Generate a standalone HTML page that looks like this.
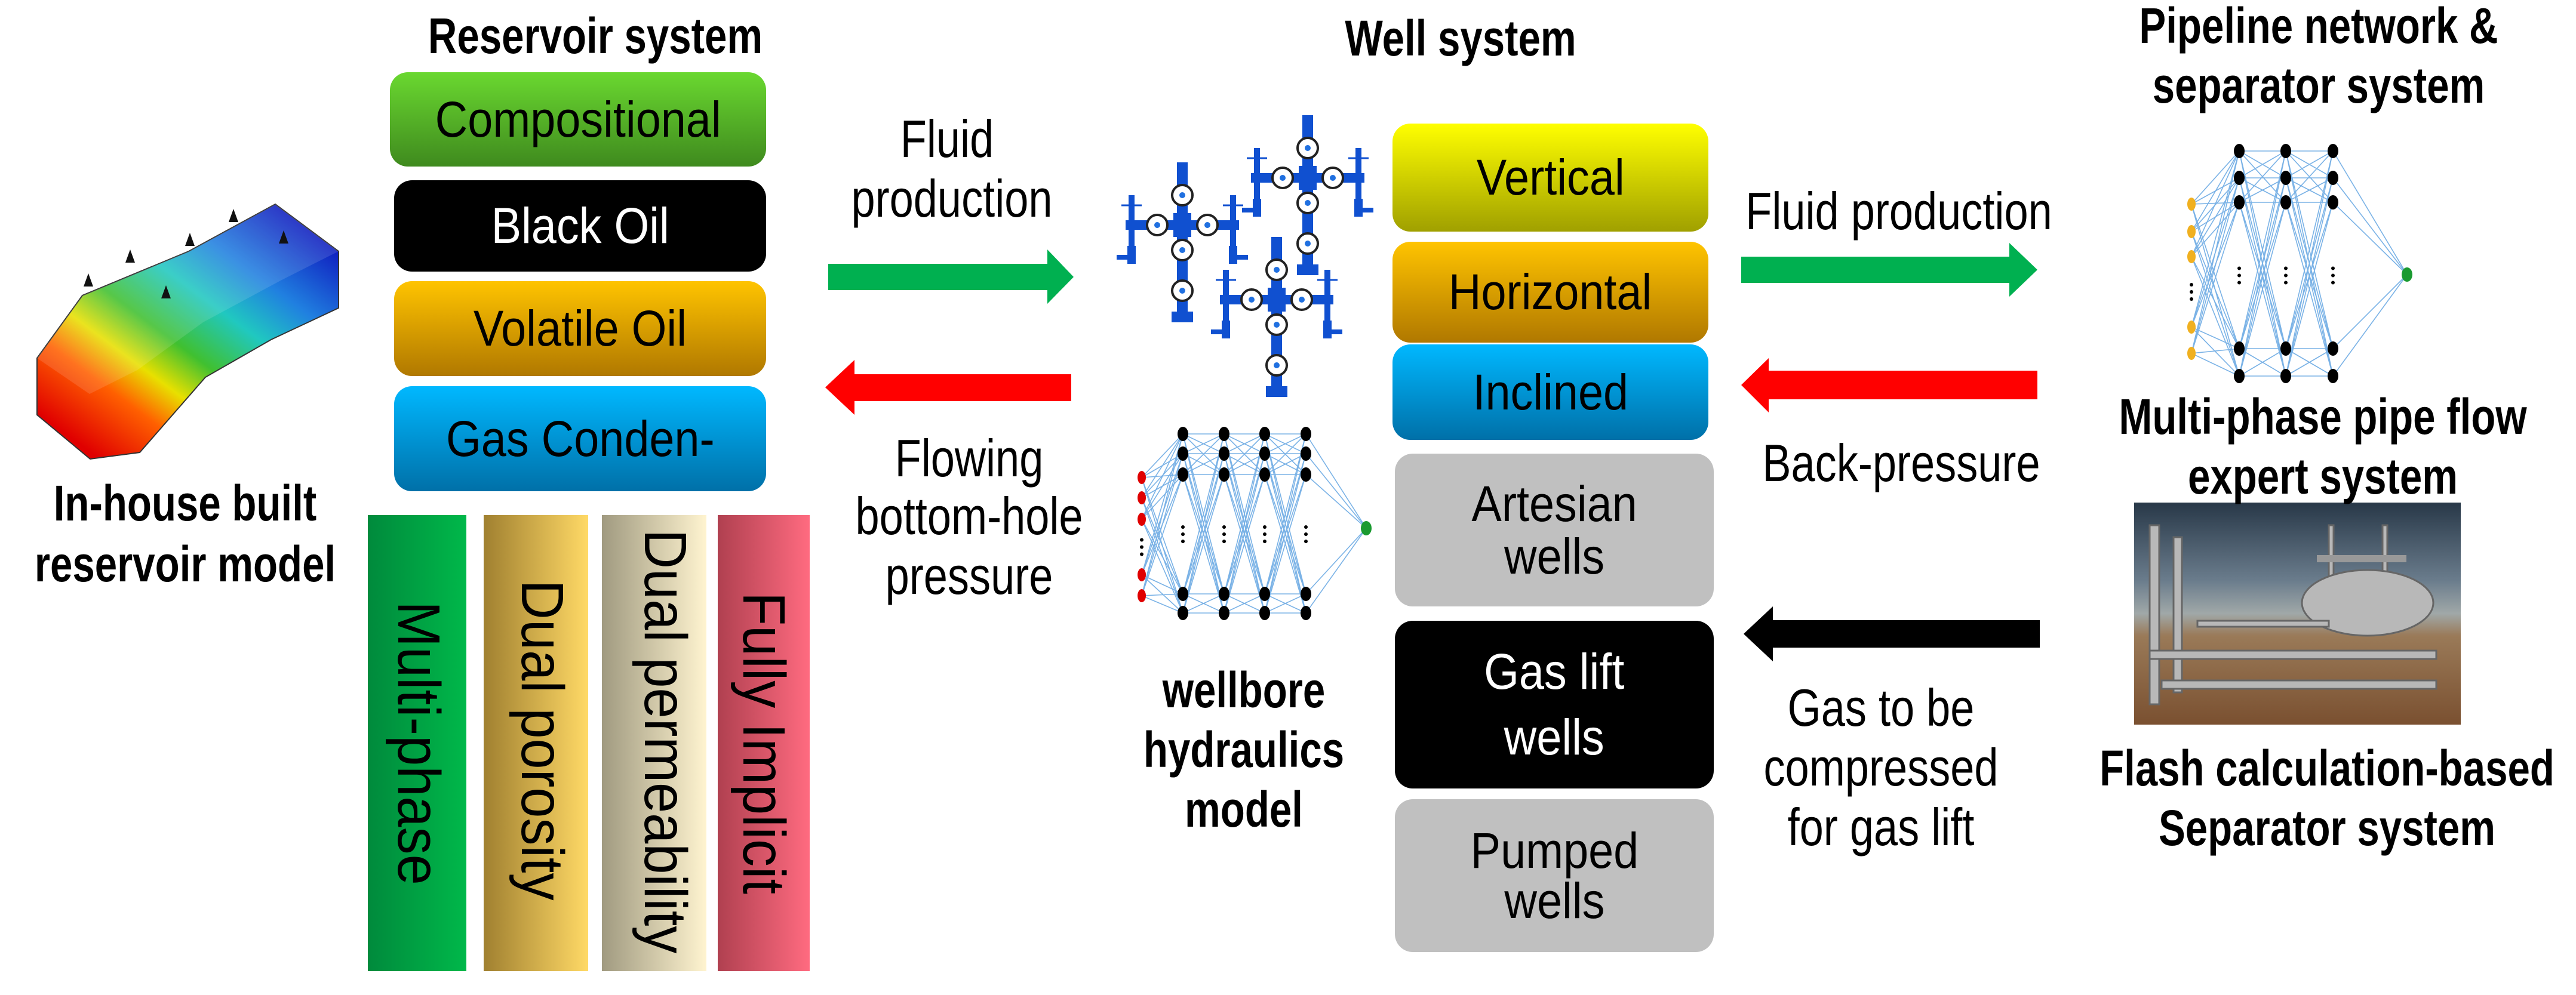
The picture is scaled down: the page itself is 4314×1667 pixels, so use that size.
<!DOCTYPE html>
<html><head><meta charset="utf-8"><style>
html,body{margin:0;padding:0;background:#fff}
#p{position:relative;width:4314px;height:1667px;overflow:hidden;background:#fff;font-family:"Liberation Sans",Arial,sans-serif}
.b{position:absolute;font-weight:bold;font-size:84px;line-height:1;white-space:nowrap;transform:translateX(-50%) scaleX(.8);color:#000}
.n{position:absolute;font-size:88px;line-height:1;white-space:nowrap;transform:translateX(-50%) scaleX(.82);color:#000}
.box{position:absolute;display:flex;align-items:center;justify-content:center;text-align:center;font-size:84px;line-height:1.12;border-radius:30px}
.box span{display:inline-block;transform:scaleX(.9)}
.bar{position:absolute;top:863px;height:764px}
.v{position:absolute;font-size:100px;white-space:nowrap;line-height:1;transform:translate(-50%,-50%) rotate(90deg) scaleX(.92)}
svg{position:absolute;left:0;top:0}
</style></head><body><div id="p">

<svg width="4314" height="1667" viewBox="0 0 4314 1667">
<defs>
<linearGradient id="res" x1="0.15" y1="0.95" x2="0.9" y2="0.1">
<stop offset="0" stop-color="#e00000"/><stop offset="0.2" stop-color="#ff6000"/><stop offset="0.32" stop-color="#e8e000"/><stop offset="0.45" stop-color="#40c030"/><stop offset="0.62" stop-color="#20c8c0"/><stop offset="0.78" stop-color="#2080e0"/><stop offset="1" stop-color="#1020c0"/>
</linearGradient>
<linearGradient id="sky" x1="0" y1="0" x2="0" y2="1">
<stop offset="0" stop-color="#283848"/><stop offset="0.35" stop-color="#6a7c8c"/><stop offset="0.5" stop-color="#a0a8a8"/><stop offset="0.6" stop-color="#9a7a58"/><stop offset="1" stop-color="#7a5030"/>
</linearGradient>
<g id="tree">
<rect x="-9" y="-105" width="18" height="260" fill="#1050d0"/>
<rect x="-95" y="-8" width="190" height="16" fill="#1050d0"/>
<rect x="-15" y="-20" width="30" height="40" fill="#1050d0"/>
<circle cx="0" cy="-98" r="7" fill="#1050d0"/>
<g fill="#fff" stroke="#222" stroke-width="4">
<circle cx="0" cy="-50" r="17"/><circle cx="0" cy="42" r="17"/><circle cx="0" cy="110" r="17"/>
<circle cx="-42" cy="0" r="17"/><circle cx="42" cy="0" r="17"/></g>
<g fill="#2070e0"><circle cx="0" cy="-50" r="5"/><circle cx="0" cy="42" r="5"/><circle cx="0" cy="110" r="5"/><circle cx="-42" cy="0" r="5"/><circle cx="42" cy="0" r="5"/></g>
<rect x="-90" y="-50" width="10" height="85" fill="#1050d0"/><rect x="80" y="-50" width="10" height="85" fill="#1050d0"/>
<line x1="-102" y1="-33" x2="-68" y2="-33" stroke="#1050d0" stroke-width="3"/><line x1="68" y1="-33" x2="102" y2="-33" stroke="#1050d0" stroke-width="3"/>
<rect x="-92" y="35" width="14" height="30" fill="#1050d0"/><rect x="78" y="35" width="14" height="30" fill="#1050d0"/>
<rect x="-110" y="50" width="22" height="8" fill="#1050d0"/><rect x="88" y="50" width="22" height="8" fill="#1050d0"/>
<rect x="-18" y="145" width="36" height="18" fill="#1050d0"/>
</g>
</defs>

<polygon points="62,600 138,495 316,421 461,342 567,421 567,516 454,569 344,632 234,758 151,769 62,695" fill="url(#res)" stroke="#333" stroke-width="2"/>
<polygon points="62,600 138,495 316,421 461,342 567,421 470,470 340,540 230,620 150,660 62,600" fill="#fff" opacity="0.12"/>
<g fill="#111"><path d="M140 480 l8 -22 l8 22z"/><path d="M210 440 l8 -22 l8 22z"/><path d="M310 412 l8 -22 l8 22z"/><path d="M383 372 l8 -22 l8 22z"/><path d="M270 500 l8 -22 l8 22z"/><path d="M467 408 l8 -22 l8 22z"/></g>

<polygon points="1387,442 1754,442 1754,418 1798,464 1754,509 1754,486 1387,486" fill="#00b050"/>
<polygon points="1794,627 1431,627 1431,603 1382,649 1431,695 1431,672 1794,672" fill="#ff0000"/>
<polygon points="2916,430 3365,430 3365,407 3412,452 3365,497 3365,474 2916,474" fill="#00b050"/>
<polygon points="3412,621 2962,621 2962,600 2916,645 2962,691 2962,669 3412,669" fill="#ff0000"/>
<polygon points="3416,1039 2969,1039 2969,1016 2920,1062 2969,1108 2969,1085 3416,1085" fill="#000"/>

<use href="#tree" x="1980" y="377"/>
<use href="#tree" x="2190" y="298"/>
<use href="#tree" x="2138" y="502"/>

<g id="nn1" stroke="#5aa0e0" stroke-width="1.6" opacity="0.8"></g>
<g id="nn2" stroke="#5aa0e0" stroke-width="1.6" opacity="0.8"></g>
<g id="dots"></g>

<rect x="3574" y="842" width="547" height="372" fill="url(#sky)"/>
<g fill="#b8b8b8" stroke="#666" stroke-width="3">
<rect x="3600" y="880" width="16" height="300"/><rect x="3640" y="900" width="14" height="260"/>
<rect x="3900" y="880" width="8" height="160"/><rect x="3990" y="880" width="8" height="160"/>
<ellipse cx="3965" cy="1010" rx="110" ry="55"/>
<rect x="3600" y="1090" width="480" height="14"/><rect x="3620" y="1140" width="460" height="14"/>
<rect x="3680" y="1040" width="220" height="10"/>
</g>
<rect x="3880" y="930" width="150" height="12" fill="#999"/>
</svg>

<div class="b" style="left:997px;top:18px">Reservoir system</div>
<div class="b" style="left:310px;top:801px">In-house built</div>
<div class="b" style="left:310px;top:903px">reservoir model</div>
<div class="b" style="left:2446px;top:22px">Well system</div>
<div class="b" style="left:2083px;top:1114px">wellbore</div>
<div class="b" style="left:2083px;top:1214px">hydraulics</div>
<div class="b" style="left:2083px;top:1314px">model</div>
<div class="b" style="left:3883px;top:1px">Pipeline network &amp;</div>
<div class="b" style="left:3883px;top:101px">separator system</div>
<div class="b" style="left:3890px;top:656px">Multi-phase pipe flow</div>
<div class="b" style="left:3890px;top:756px">expert system</div>
<div class="b" style="left:3897px;top:1245px">Flash calculation-based</div>
<div class="b" style="left:3897px;top:1345px">Separator system</div>

<div class="n" style="left:1586px;top:189px">Fluid</div>
<div class="n" style="left:1594px;top:289px">production</div>
<div class="n" style="left:1623px;top:724px">Flowing</div>
<div class="n" style="left:1623px;top:821px">bottom-hole</div>
<div class="n" style="left:1623px;top:921px">pressure</div>
<div class="n" style="left:3180px;top:310px">Fluid production</div>
<div class="n" style="left:3184px;top:732px">Back-pressure</div>
<div class="n" style="left:3150px;top:1142px">Gas to be</div>
<div class="n" style="left:3150px;top:1242px">compressed</div>
<div class="n" style="left:3150px;top:1342px">for gas lift</div>

<div class="box" style="left:653px;top:121px;width:630px;height:158px;background:linear-gradient(#6ad830,#3f8a1e)"><span>Compositional</span></div>
<div class="box" style="left:660px;top:302px;width:623px;height:153px;background:#000;color:#fff"><span>Black Oil</span></div>
<div class="box" style="left:660px;top:471px;width:623px;height:159px;background:linear-gradient(#ffc400,#b07800)"><span>Volatile Oil</span></div>
<div class="box" style="left:660px;top:647px;width:623px;height:176px;background:linear-gradient(#00b8ff,#0070a8)"><span>Gas Conden-</span></div>

<div class="bar" style="left:616px;width:165px;background:linear-gradient(90deg,#008a3c,#00b84a)"></div>
<div class="bar" style="left:810px;width:175px;background:linear-gradient(90deg,#a08030,#ffd966)"></div>
<div class="bar" style="left:1008px;width:175px;background:linear-gradient(90deg,#a09a80,#fff4d0)"></div>
<div class="bar" style="left:1202px;width:154px;background:linear-gradient(90deg,#b04050,#ff6b80)"></div>
<div class="v" style="left:701px;top:1245px">Multi-phase</div>
<div class="v" style="left:908px;top:1240px">Dual porosity</div>
<div class="v" style="left:1114px;top:1242px">Dual permeability</div>
<div class="v" style="left:1279px;top:1245px">Fully Implicit</div>

<div class="box" style="left:2332px;top:207px;width:529px;height:181px;background:linear-gradient(#ffff00,#a0a000)"><span>Vertical</span></div>
<div class="box" style="left:2332px;top:405px;width:529px;height:169px;background:linear-gradient(#ffc400,#b07800)"><span>Horizontal</span></div>
<div class="box" style="left:2332px;top:577px;width:529px;height:160px;background:linear-gradient(#00b8ff,#0070a8)"><span>Inclined</span></div>
<div class="box" style="left:2336px;top:760px;width:534px;height:256px;background:#c0c0c0;line-height:1.05"><span>Artesian<br>wells</span></div>
<div class="box" style="left:2336px;top:1040px;width:534px;height:281px;background:#000;color:#fff;line-height:1.3"><span>Gas lift<br>wells</span></div>
<div class="box" style="left:2336px;top:1339px;width:534px;height:256px;background:#c0c0c0;line-height:1.0"><span>Pumped<br>wells</span></div>

<script>
(function(){
var NS="http://www.w3.org/2000/svg";
function el(p,t,a){var e=document.createElementNS(NS,t);for(var k in a)e.setAttribute(k,a[k]);p.appendChild(e);return e;}
function net(g,inX,inY,hx,hy,out,inColor){
  var cols=[inX.map(function(_,i){return [inX[i],inY[i]];})];
  hx.forEach(function(x){cols.push(hy.map(function(y){return [x,y];}));});
  cols.push([out]);
  for(var c=0;c<cols.length-1;c++)cols[c].forEach(function(a){cols[c+1].forEach(function(b){el(g,"line",{x1:a[0],y1:a[1],x2:b[0],y2:b[1]});});});
  var d=document.getElementById("dots");
  cols.forEach(function(col,ci){col.forEach(function(p){
    var f=ci==0?inColor:(ci==cols.length-1?"#1a9a30":"#000");
    el(d,"ellipse",{cx:p[0],cy:p[1],rx:ci==0?7:9,ry:ci==0?11:12,fill:f});});});
  var xs=[inX[0]].concat(hx);
  xs.forEach(function(x,i){var y0=(i==0?(inY[2]+inY[3])/2:(hy[2]+hy[3])/2);for(var k=-1;k<=1;k++)el(d,"circle",{cx:x,cy:y0+k*12,r:3,fill:"#000"});});
}
net(document.getElementById("nn1"),[1912,1912,1912,1912,1912],[800,834,870,963,998],[1981,2050,2118,2187],[727,760,795,995,1027],[2288,885],"#e00000");
net(document.getElementById("nn2"),[3670,3670,3670,3670,3670],[342,388,430,548,592],[3750,3828,3907],[253,298,339,584,630],[4031,460],"#f0b020");
})();
</script>
</div></body></html>
